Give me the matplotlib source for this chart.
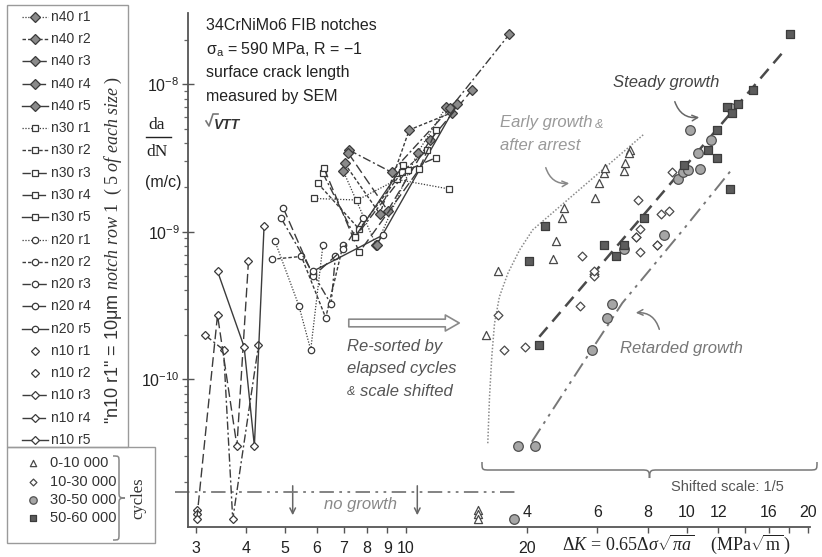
import matplotlib
matplotlib.use("Agg")
import matplotlib.pyplot as plt
from matplotlib.path import Path
from matplotlib.patches import PathPatch, Rectangle
from matplotlib.lines import Line2D
from matplotlib.ticker import NullFormatter, FixedLocator

plt.rcParams['font.family'] = ['Liberation Sans', 'DejaVu Sans']
plt.rcParams['mathtext.fontset'] = 'custom'
plt.rcParams['mathtext.rm'] = 'Liberation Serif'
plt.rcParams['mathtext.it'] = 'Liberation Serif:italic'
plt.rcParams['mathtext.sf'] = 'Liberation Sans'

# ---------------------------------------------------------------------------
# Crack growth data: dK (MPa*sqrt(m)), da/dN (m/cycle), cycle group per point
# cycle groups: 0 = 0-10 000, 1 = 10-30 000, 2 = 30-50 000, 3 = 50-60 000
# rates near 1.1e-11 mark "no growth" readings
# ---------------------------------------------------------------------------
n40_dk = [[6.98, 8.44, 10.7, 12.6],
          [7.04, 8.62, 10.2, 13.0],
          [7.22, 9.22, 12.9, 18.1],
          [7.20, 9.02, 11.5, 14.6],
          [8.46, 13.4]]
n40_rate = [[2.6e-9, 8.1e-10, 3.43e-9, 7.0e-9],
            [2.91e-9, 1.32e-9, 4.9e-9, 6.4e-9],
            [3.58e-9, 2.53e-9, 6.87e-9, 2.18e-8],
            [3.4e-9, 1.39e-9, 4.19e-9, 9.1e-9],
            [8.1e-10, 7.35e-9]]
n40_cyc = [[0, 1, 2, 3], [0, 1, 2, 3], [0, 1, 2, 3], [0, 1, 2, 3], [1, 3]]

n30_dk = [[5.92, 7.58, 9.52, 12.8],
          [6.04, 7.66, 9.80, 11.3],
          [6.22, 7.48, 10.1, 11.9],
          [6.26, 7.66, 10.8, 11.9],
          [7.48, 9.86]]
n30_rate = [[1.68e-9, 1.64e-9, 2.26e-9, 1.95e-9],
            [2.13e-9, 1.04e-9, 2.55e-9, 3.58e-9],
            [2.49e-9, 9.2e-10, 2.62e-9, 3.18e-9],
            [2.69e-9, 7.25e-10, 2.65e-9, 4.9e-9],
            [9.25e-10, 2.83e-9]]
n30_cyc = [[0, 1, 2, 3], [0, 1, 2, 3], [0, 1, 2, 3], [0, 1, 2, 3], [1, 3]]

n20_dk = [[4.72, 5.42, 5.80, 6.22],
          [4.64, 5.50, 6.32, 6.98],
          [4.90, 5.88, 6.52, 6.68],
          [4.96, 5.88, 6.98, 7.82],
          [5.88, 8.78]]
n20_rate = [[8.7e-10, 3.15e-10, 1.58e-10, 8.1e-10],
            [6.5e-10, 6.8e-10, 2.61e-10, 8.1e-10],
            [1.23e-9, 5.2e-10, 3.22e-10, 6.8e-10],
            [1.44e-9, 5.0e-10, 7.6e-10, 1.23e-9],
            [5.4e-10, 9.5e-10]]
n20_cyc = [[0, 1, 2, 3], [0, 1, 2, 3], [0, 1, 2, 3], [0, 1, 2, 3], [1, 2]]

n10_dk = [[3.02],
          [3.02],
          [3.16, 3.52, 3.71, 4.30],
          [3.02, 3.40, 3.80, 4.06],
          [3.40, 3.96, 4.20, 4.44]]
n10_rate = [[1.30e-11],
            [1.21e-11],
            [2.0e-10, 1.58e-10, 1.12e-11, 1.7e-10],
            [1.13e-11, 2.72e-10, 3.52e-11, 6.3e-10],
            [5.4e-10, 1.66e-10, 3.52e-11, 1.1e-9]]
n10_cyc = [[0], [0], [0, 1, 2, 3], [0, 1, 2, 3], [0, 1, 2, 3]]

size_names = ['n40', 'n30', 'n20', 'n10']
cycle_labels = ['0-10 000', '10-30 000', '30-50 000', '50-60 000']
SHIFT = 5            # re-sorted data drawn on a 5x shifted dK scale
NO_GROWTH = 1.72e-11

# guide curves through the re-sorted data (main-axis coordinates)
early_dk = [16.0, 16.16, 16.37, 16.63, 17.1, 17.95, 19.2, 20.7, 39.1]
early_rate = [3.68e-11, 7.6e-11, 1.42e-10, 2.39e-10, 3.62e-10, 5.22e-10, 7.52e-10, 1.03e-9, 4.57e-9]
steady_dk = [21.5, 87.0]
steady_rate = [1.94e-10, 1.66e-8]
retard_dk = [20.6, 29.0, 34.6, 49.0, 64.6]
retard_rate = [3.77e-11, 1.58e-10, 3.29e-10, 1.03e-9, 2.62e-9]

main_ticks = [3, 4, 5, 6, 7, 8, 9, 10, 20]
shift_ticks = [4, 6, 8, 10, 12, 16, 20]

# ---------------------------------------------------------------------------
W, H = 822, 557
fig = plt.figure(figsize=(W / 100, H / 100), dpi=100)

ov = fig.add_axes([0, 0, 1, 1])
ov.set_xlim(0, W)
ov.set_ylim(H, 0)
ov.axis('off')

x0, x1, yb, yt = 188, 810, 526.7, 13
ax = fig.add_axes([x0 / W, (H - yb) / H, (x1 - x0) / W, (yb - yt) / H])
ax.patch.set_visible(False)
ax.set_xscale('log')
ax.set_yscale('log')
ax.set_xlim(2.871, 101.4)
ax.set_ylim(1.0e-11, 3.04e-8)
for s in ('top', 'right'):
    ax.spines[s].set_visible(False)
for s in ('left', 'bottom'):
    ax.spines[s].set_color('#555555')
    ax.spines[s].set_linewidth(1.3)

LC = '#3c3c3c'
run_styles = [(0, (1, 1.3)), (0, (2.5, 1.5)), (0, (6, 2, 1.5, 2)), (0, (7, 3)), '-']
run_widths = [0.9, 1.0, 1.0, 1.0, 1.0]
size_marker = {
    'n40': dict(marker='D', ms=5.2, mfc='#8a8a8a', mec='#3a3a3a', mew=0.9),
    'n30': dict(marker='s', ms=5.0, mfc='white', mec='#3a3a3a', mew=0.9),
    'n20': dict(marker='o', ms=4.6, mfc='white', mec='#3a3a3a', mew=0.9),
    'n10': dict(marker='D', ms=3.8, mfc='white', mec='#3a3a3a', mew=0.9),
}
cycle_marker = [
    dict(marker='^', s=34, facecolors='white', edgecolors='#4a4a4a', linewidths=0.9),
    dict(marker='D', s=20, facecolors='white', edgecolors='#4a4a4a', linewidths=0.9),
    dict(marker='o', s=48, facecolors='#a6a6a6', edgecolors='#505050', linewidths=0.9),
    dict(marker='s', s=30, facecolors='#5c5c5c', edgecolors='#3c3c3c', linewidths=0.9),
]

all_dk = {'n40': n40_dk, 'n30': n30_dk, 'n20': n20_dk, 'n10': n10_dk}
all_rate = {'n40': n40_rate, 'n30': n30_rate, 'n20': n20_rate, 'n10': n10_rate}
all_cyc = {'n40': n40_cyc, 'n30': n30_cyc, 'n20': n20_cyc, 'n10': n10_cyc}

grp_x = [[], [], [], []]
grp_y = [[], [], [], []]
for name in size_names:
    for r in range(5):
        dk = all_dk[name][r]
        rate = all_rate[name][r]
        no_line = (name == 'n10' and r < 2)
        ax.plot(dk, rate, ls='none' if no_line else run_styles[r],
                lw=run_widths[r], color=LC, zorder=3, clip_on=False,
                **size_marker[name])
        for k, g in enumerate(all_cyc[name][r]):
            grp_x[g].append(dk[k] * SHIFT)
            grp_y[g].append(rate[k])

# re-sorted by elapsed cycles, on the shifted scale
for g in range(4):
    ax.scatter(grp_x[g], grp_y[g], zorder=4, clip_on=False, **cycle_marker[g])

ax.plot(early_dk, early_rate, ls=(0, (1, 1.2)), lw=1.1, color='#8a8a8a', zorder=2)
ax.plot(steady_dk, steady_rate, ls=(0, (5, 3)), lw=1.8, color='#4a4a4a', zorder=2)
ax.plot(retard_dk, retard_rate, ls=(0, (8, 3, 1.5, 3, 1.5, 3)), lw=1.4, color='#777777', zorder=2)

# no-growth threshold line
ax.plot([2.66, 18.7], [NO_GROWTH, NO_GROWTH], ls=(0, (8, 3, 1.5, 3, 1.5, 3)),
        lw=1.3, color='#7a7a7a', clip_on=False, zorder=2)

# axes ticks
ax.xaxis.set_major_locator(FixedLocator(main_ticks + [30, 40, 50, 60, 70, 80, 90, 100]))
ax.set_xticklabels([str(t) for t in main_ticks] + [''] * 8)
ax.xaxis.set_minor_locator(FixedLocator([]))
ax.tick_params(axis='x', which='major', direction='out', length=4, width=1,
               color='#555555', labelsize=11.5, pad=6, labelcolor='#222222')
ax.yaxis.set_major_locator(FixedLocator([1e-10, 1e-9, 1e-8]))
ax.set_yticklabels([r'$\mathsf{10^{-10}}$', r'$\mathsf{10^{-9}}$', r'$\mathsf{10^{-8}}$'])
ax.yaxis.set_minor_locator(FixedLocator([m * 10.0 ** e for e in (-11, -10, -9, -8)
                                         for m in range(2, 10) if m * 10.0 ** e < 3e-8]))
ax.yaxis.set_minor_formatter(NullFormatter())
ax.tick_params(axis='y', which='major', direction='inout', length=8, width=1,
               color='#555555', labelsize=11.5, pad=2, labelcolor='#222222')
ax.tick_params(axis='y', which='minor', direction='out', length=3, width=0.9, color='#666666')

# shifted scale labels (above the axis line)
xt = ax.get_xaxis_transform()
for v in shift_ticks:
    ax.text(v * SHIFT, 0.0286, str(v), transform=xt, ha='center', va='center',
            fontsize=11.5, color='#222222')
ov.text(727, 487, 'Shifted scale: 1/5', ha='center', va='center',
        fontsize=10.5, color='#555555')

# axis titles
ov.text(562, 544, r'$\Delta K\, =\, 0.65\Delta\sigma\sqrt{\pi a}$    (MPa$\sqrt{\mathrm{m}}\,$)',
        ha='left', va='center', fontsize=13, color='#222222', family='Liberation Serif')
ov.text(157, 125, 'da', ha='center', va='center', fontsize=12.5, family='Liberation Serif', color='#222222')
ov.plot([146, 171], [137, 137], color='#222222', lw=1)
ov.text(157, 152, 'dN', ha='center', va='center', fontsize=12.5, family='Liberation Serif', color='#222222')
ov.text(163, 182, '(m/c)', ha='center', va='center', fontsize=11.5, color='#222222')

# header
hdr = ['34CrNiMo6 FIB notches', r'σ$_\mathsf{a}$ = 590 MPa, R = −1',
       'surface crack length', 'measured by SEM']
for i, t in enumerate(hdr):
    ov.text(206, [25, 50, 73, 96][i], t, ha='left', va='center', fontsize=11.5, color='#222222')
ov.plot([206, 209, 213, 218], [121, 126, 114, 114], color='#777777', lw=1.2)
ov.text(214, 125, 'VTT', ha='left', va='center', fontsize=10, fontweight='heavy',
        style='italic', color='#333333')

# annotations
def txt(x, y, s, size=12, color='#555555', ha='left'):
    ov.text(x, y, s, ha=ha, va='center', fontsize=size, style='italic', color=color)

txt(347, 346, 'Re-sorted by')
txt(347, 369, 'elapsed cycles')
txt(347, 392, '&', size=9)
txt(360, 392, 'scale shifted')
txt(613, 82, 'Steady growth', color='#444444')
txt(500, 123, 'Early growth', color='#999999')
txt(595, 125, '&', size=9, color='#999999')
txt(500, 146, 'after arrest', color='#999999')
txt(620, 348, 'Retarded growth', color='#777777')
txt(360, 505, 'no growth', color='#888888', ha='center')

arr = dict(arrowstyle='->', color='#666666', lw=1.1)
ov.annotate('', xy=(702, 117), xytext=(674, 99),
            arrowprops=dict(arr, connectionstyle='arc3,rad=0.45'))
ov.annotate('', xy=(572, 183), xytext=(545, 165),
            arrowprops=dict(arr, color='#888888', connectionstyle='arc3,rad=0.45'))
ov.annotate('', xy=(633, 313), xytext=(660, 332),
            arrowprops=dict(arr, color='#777777', connectionstyle='arc3,rad=0.45'))
for xa in (292.7, 417.3):
    ov.annotate('', xy=(xa, 518), xytext=(xa, 483),
                arrowprops=dict(arrowstyle='->', color='#666666', lw=1.1))
ov.annotate('', xy=(462, 323), xytext=(346, 323),
            arrowprops=dict(arrowstyle='simple,head_length=1.0,head_width=1.15,tail_width=0.55',
                            fc='white', ec='#8a8a8a', lw=1.2))


def brace(x_a, x_b, y0, h, color='#777777', lw=1.1, vertical=False):
    xm = (x_a + x_b) / 2
    r = h / 2
    pts = [(x_a, y0), (x_a, y0 + h / 2), (x_a, y0 + h / 2), (x_a + r, y0 + h / 2),
           (xm - r, y0 + h / 2),
           (xm - 0.2 * r, y0 + h / 2), (xm, y0 + h / 2), (xm, y0 + h),
           (xm, y0 + h / 2), (xm + 0.2 * r, y0 + h / 2), (xm + r, y0 + h / 2),
           (x_b - r, y0 + h / 2),
           (x_b, y0 + h / 2), (x_b, y0 + h / 2), (x_b, y0)]
    codes = [Path.MOVETO] + [Path.CURVE4] * 3 + [Path.LINETO] + [Path.CURVE4] * 6 + \
            [Path.LINETO] + [Path.CURVE4] * 3
    if vertical:
        pts = [(p[1], p[0]) for p in pts]
    ov.add_patch(PathPatch(Path(pts, codes), fc='none', ec=color, lw=lw))


brace(482, 817, 462, 16)

# series legend
ov.add_patch(Rectangle((7, 5), 121, 442, fc='none', ec='#9a9a9a', lw=1))
ov.add_patch(Rectangle((7, 447), 148, 96, fc='none', ec='#9a9a9a', lw=1))
row = 0
for name in size_names:
    for r in range(5):
        yy = 16.7 + row * 22.28
        no_line = (name == 'n10' and r < 2)
        if not no_line:
            ov.add_line(Line2D([22, 48], [yy, yy], ls=run_styles[r], lw=run_widths[r], color=LC))
        ov.add_line(Line2D([35], [yy], ls='none', **size_marker[name]))
        ov.text(51, yy, f'{name} r{r + 1}', ha='left', va='center', fontsize=10, color='#333333')
        row += 1
ov.text(113, 250, r'"n10 r1" = 10μm $\mathit{notch\ row\ 1\ \ (\ 5\ of\ each\ size\ )}$',
        rotation=90, ha='center', va='center', fontsize=13, color='#333333')

# cycle legend
for g, yy in enumerate([462.7, 482.3, 500.3, 518.3]):
    ov.scatter([33], [yy], **dict(cycle_marker[g], s=cycle_marker[g]['s'] * 0.6))
    ov.text(50, yy, cycle_labels[g], ha='left', va='center', fontsize=10.5, color='#333333')
brace(456, 540, 113, 12, color='#888888', vertical=True)
ov.text(138, 498, 'cycles', rotation=90, ha='center', va='center', fontsize=12,
        family='Liberation Serif', color='#333333')

fig.savefig('out.png', dpi=100)
